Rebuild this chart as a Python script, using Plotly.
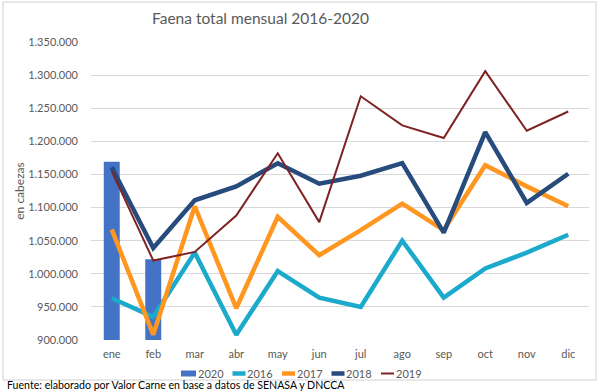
import plotly.graph_objects as go

months = ["ene", "feb", "mar", "abr", "may", "jun", "jul", "ago", "sep", "oct", "nov", "dic"]
v2020 = [1169000, 1022000]
v2016 = [963000, 935000, 1032000, 908000, 1004000, 964000, 950000, 1050000, 964000, 1008000, 1032000, 1059000]
v2017 = [1067000, 908000, 1102000, 948000, 1086000, 1028000, 1066000, 1106000, 1066000, 1164000, 1132000, 1102000]
v2018 = [1161000, 1039000, 1111000, 1132000, 1167000, 1136000, 1148000, 1167000, 1062000, 1214000, 1107000, 1151000]
v2019 = [1155000, 1020000, 1033000, 1088000, 1182000, 1078000, 1268000, 1224000, 1205000, 1306000, 1216000, 1245000]
series_names = ["2020", "2016", "2017", "2018", "2019"]

FONT = "Lato"
GRAY = "#595959"
C2020, C2016, C2017, C2018, C2019 = "#4472C4", "#1BAACB", "#FF9620", "#264B7C", "#7E2224"

fig = go.Figure()
fig.add_trace(go.Bar(x=months[:len(v2020)], y=[v - 900000 for v in v2020], base=900000,
                     name="2020", marker=dict(color=C2020, line=dict(width=0)), width=0.385))
fig.add_trace(go.Scatter(x=months, y=v2016, name="2016", mode="lines", line=dict(color=C2016, width=4.5)))
fig.add_trace(go.Scatter(x=months, y=v2017, name="2017", mode="lines", line=dict(color=C2017, width=4.5)))
fig.add_trace(go.Scatter(x=months, y=v2018, name="2018", mode="lines", line=dict(color=C2018, width=4.5)))
fig.add_trace(go.Scatter(x=months, y=v2019, name="2019", mode="lines", line=dict(color=C2019, width=2)))

L, R, T, B = 91, 11, 42, 52
W, H = 600, 392
pw, ph = W - L - R, H - T - B

def px(x):
    return (x - L) / pw

def py(y):
    return (H - B - y) / ph

shapes = [dict(type="rect", xref="paper", yref="paper", x0=px(3), x1=px(596), y0=py(380), y1=py(2),
               line=dict(color="#D0D0D0", width=1), fillcolor="rgba(0,0,0,0)", layer="below")]
annotations = [dict(text="Fuente: elaborado por Valor Carne en base a datos de SENASA y DNCCA",
                    xref="paper", yref="paper", x=px(6), y=py(392), xanchor="left", yanchor="bottom",
                    showarrow=False, borderpad=0, font=dict(family=FONT, size=10.6, color="black"))]

# manual legend (Excel-like compact layout)
leg_colors = [C2020, C2016, C2017, C2018, C2019]
leg_widths = [None, 4.5, 4.5, 4.5, 2]
ly = 373.5
for i, (name, col, lw) in enumerate(zip(series_names, leg_colors, leg_widths)):
    x0 = 181 + i * 49.5
    if lw is None:
        shapes.append(dict(type="rect", xref="paper", yref="paper", x0=px(x0), x1=px(x0 + 15),
                           y0=py(ly + 3), y1=py(ly - 3), line=dict(width=0), fillcolor=col))
    else:
        shapes.append(dict(type="line", xref="paper", yref="paper", x0=px(x0 + 2), x1=px(x0 + 15),
                           y0=py(ly), y1=py(ly), line=dict(color=col, width=lw)))
    annotations.append(dict(text=name, xref="paper", yref="paper", x=px(x0 + 15.5), y=py(ly),
                            xanchor="left", yanchor="middle", showarrow=False, borderpad=0,
                            font=dict(family=FONT, size=11, color=GRAY)))

fig.update_layout(
    width=W, height=H,
    margin=dict(l=L, r=R, t=T, b=B),
    paper_bgcolor="white", plot_bgcolor="white",
    separators=",.",
    showlegend=False,
    font=dict(family=FONT, color=GRAY, size=11),
    title=dict(text="Faena total mensual 2016-2020", x=260.5 / W, xref="container", xanchor="center",
               y=1 - 19 / H, yref="container", yanchor="middle",
               font=dict(family=FONT, size=15.5, color=GRAY)),
    xaxis=dict(type="category", range=[-0.5, 11.5], showgrid=False, showline=False, ticks="",
               tickfont=dict(size=11, color=GRAY), ticklabelstandoff=6),
    yaxis=dict(range=[900000, 1350000], dtick=50000, tickformat=",d",
               gridcolor="#D9D9D9", gridwidth=1, zeroline=False, showline=False,
               tickfont=dict(size=11, color=GRAY), ticklabelstandoff=12,
               title=dict(text="en cabezas", font=dict(size=12, color=GRAY), standoff=0)),
    shapes=shapes,
    annotations=annotations,
)

fig.write_html("out.html", config={"displayModeBar": False},
               post_script="document.body.style.margin='0';document.body.style.overflow='hidden';")
